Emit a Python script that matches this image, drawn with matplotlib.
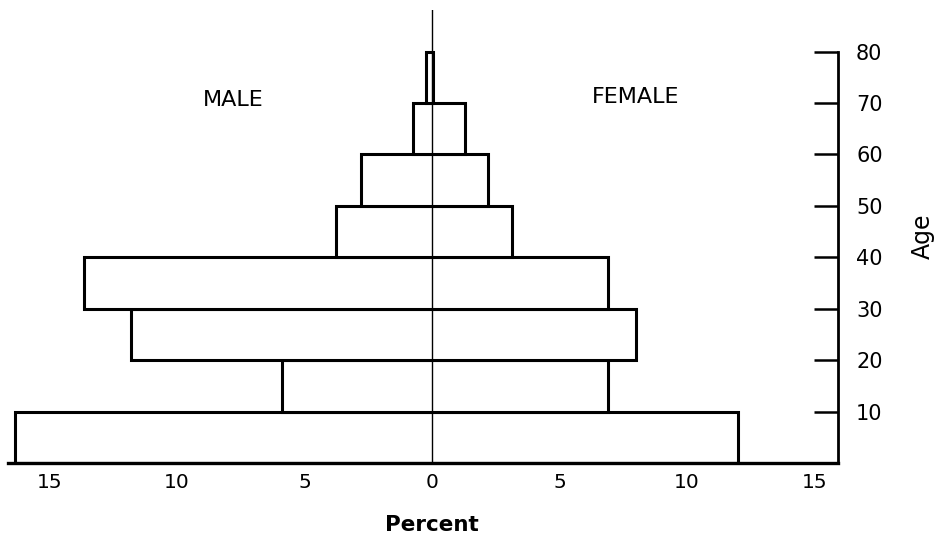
import matplotlib
matplotlib.use("Agg")
import matplotlib.pyplot as plt
import numpy as np

age_starts = [0, 10, 20, 30, 40, 50, 60, 70]
male = [16.35, 5.9, 11.8, 13.65, 3.75, 2.8, 0.75, 0.25]
female = [12.0, 6.9, 8.0, 6.9, 3.15, 2.2, 1.3, 0.05]
x_ticks = [-15, -10, -5, 0, 5, 10, 15]
x_labels = ["15", "10", "5", "0", "5", "10", "15"]
y_ticks = [10, 20, 30, 40, 50, 60, 70, 80]
y_labels = ["10", "20", "30", "40", "50", "60", "70", "80"]

plt.rcParams['font.family'] = ['DejaVu Sans']

W, H = 934, 541
fig = plt.figure(figsize=(W / 100, H / 100), dpi=100)
ax = fig.add_axes([8 / W, (H - 463) / H, (838 - 8) / W, (463 - 10) / H])

lefts = [-m for m in male]
widths = [m + f for m, f in zip(male, female)]
ax.barh(age_starts, widths, left=lefts, height=10, align='edge',
        color='white', edgecolor='black', linewidth=2.2, zorder=2)

ax.axvline(0, color='black', linewidth=1.0, zorder=3)

ax.set_xlim(-16.63, 15.92)
ax.set_ylim(0, 88.1)

for s in ['left', 'top']:
    ax.spines[s].set_visible(False)
ax.spines['bottom'].set_linewidth(2.4)
ax.spines['right'].set_linewidth(2.0)
ax.spines['right'].set_bounds(0, 80)

ax.set_xticks(x_ticks)
ax.set_xticklabels(x_labels, fontsize=14.5)
ax.tick_params(axis='x', direction='in', length=9, width=1.6, pad=7)
xt = ax.xaxis.get_major_ticks()
xt[3].tick1line.set_visible(False)
xt[-1].tick1line.set_visible(False)

ax.yaxis.tick_right()
ax.yaxis.set_label_position('right')
ax.set_yticks(y_ticks)
ax.set_yticklabels(y_labels, fontsize=15)
ax.tick_params(axis='y', direction='in', length=17, width=1.8, pad=13)

ax.set_xlabel('Percent', fontsize=15.5, fontweight='bold')
ax.xaxis.set_label_coords((432 - 8) / 830, -0.115)
ax.set_ylabel('Age', fontsize=17, labelpad=20)

ax.text(-7.8, 70.6, 'MALE', fontsize=16, ha='center', va='center')
ax.text(8.0, 71.2, 'FEMALE', fontsize=16, ha='center', va='center')

fig.savefig('out.png', dpi=100)
